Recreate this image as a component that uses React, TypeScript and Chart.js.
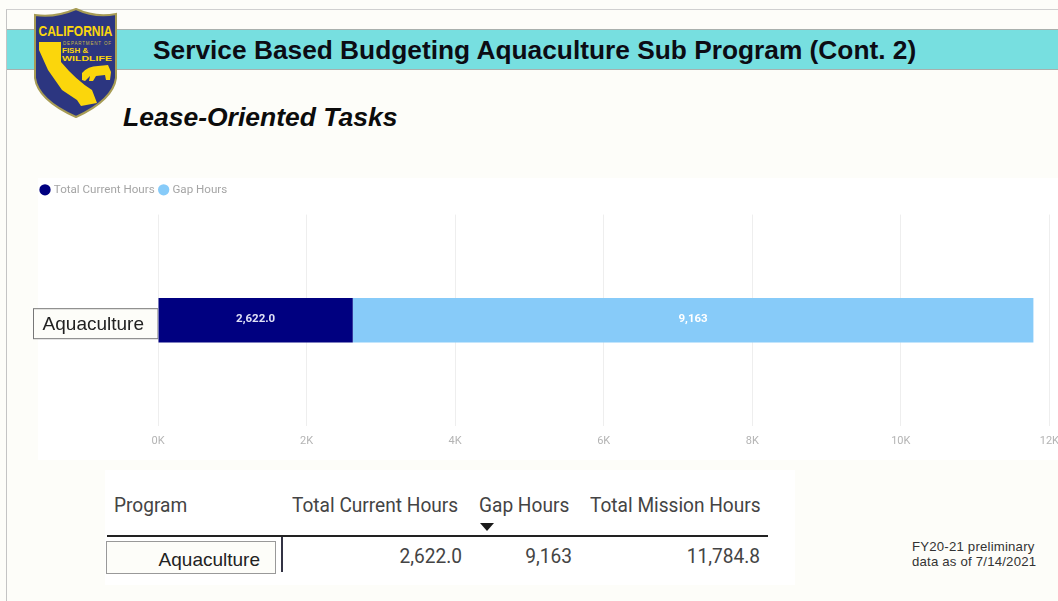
import React, { useEffect, useRef } from "react";
import { Chart, registerables } from "chart.js";

Chart.register(...registerables);

const categories = ["Aquaculture"];
const currentHours = [2622.0];
const gapHours = [9163];
const missionHours = [11784.8];
const currentLabels = ["2,622.0"];
const gapLabels = ["9,163"];
const xTicks = [0, 2000, 4000, 6000, 8000, 10000, 12000];
const tableHeaders = ["Program", "Total Current Hours", "Gap Hours", "Total Mission Hours"];

const PAGE = "#fdfdf9";

const legendGap = {
  id: "legendGap",
  beforeInit(chart: any) {
    const legend = chart.legend;
    const fit = legend.fit;
    legend.fit = function () {
      fit.call(this);
      this.height += 9;
    };
  },
};

const barLabels = {
  id: "barLabels",
  afterDatasetsDraw(chart: any) {
    const { ctx } = chart;
    const sets = [currentLabels, gapLabels];
    chart.data.datasets.forEach((_: any, di: number) => {
      chart.getDatasetMeta(di).data.forEach((el: any, i: number) => {
        ctx.save();
        ctx.fillStyle = di === 0 ? "#dfe0f5" : "#ffffff";
        ctx.font = "bold 11.5px Roboto";
        ctx.textAlign = "center";
        ctx.textBaseline = "middle";
        ctx.fillText(sets[di][i], (el.x + el.base) / 2, el.y - 1);
        ctx.restore();
      });
    });
  },
};

const categoryBox = {
  id: "categoryBox",
  beforeDraw(chart: any) {
    const { ctx, scales } = chart;
    const y0 = scales.y.getPixelForValue(0);
    const x1 = scales.x.getPixelForValue(0);
    ctx.save();
    ctx.fillStyle = PAGE;
    ctx.strokeStyle = "#777";
    ctx.lineWidth = 1;
    ctx.fillRect(3.5, y0 - 11.5, x1 - 3.5, 30);
    ctx.strokeRect(3.5, y0 - 11.5, x1 - 3.5, 30);
    ctx.restore();
  },
};

function Logo() {
  return (
    <svg width="90" height="114" viewBox="30 6 90 114" style={{ position: "absolute", left: 30, top: 6 }}>
      <path d="M76 9 Q55 18 35 15 L35 78 Q38 100 76 117 Q113 100 116 78 L116 14 Q95 18 76 9 Z" fill="#2c3680" stroke="#a79c55" strokeWidth="2" />
      <text x="75.5" y="35.5" textAnchor="middle" fill="#fbd60c" fontFamily="'Liberation Sans'" fontWeight="bold" fontSize="14" textLength="74" lengthAdjust="spacingAndGlyphs">CALIFORNIA</text>
      <path d="M39 42 L61 42 L61 62 Q76 80 92 90 L97 103 L81 106 L77 100 L62 90 L48 70 L39 50 Z" fill="#fbd60c" />
      <text x="87" y="45" textAnchor="middle" fill="#c9b94a" fontFamily="'Liberation Sans'" fontSize="4.5" textLength="48">DEPARTMENT OF</text>
      <text x="62" y="52.5" fill="#fbd60c" fontFamily="'Liberation Sans'" fontWeight="bold" fontSize="8">FISH &amp;</text>
      <text x="62" y="60.5" fill="#fbd60c" fontFamily="'Liberation Sans'" fontWeight="bold" fontSize="8" textLength="50" lengthAdjust="spacingAndGlyphs">WILDLIFE</text>
      <path d="M82 73 Q88 66 98 66 L108 65 L111 72 L110 80 L106 80 L105 75 L96 76 L93 81 L89 81 L90 76 L85 81 L82 80 Z" fill="#fbd60c" />
    </svg>
  );
}

const abs = (left: number, top: number, extra: any = {}) => ({ position: "absolute", left, top, whiteSpace: "nowrap", ...extra });
const tableFont = { fontFamily: "Roboto", fontSize: 20, color: "#444", transform: "scaleX(0.955)" };

export default function App() {
  const ref = useRef<HTMLCanvasElement>(null);
  useEffect(() => {
    document.body.style.margin = "0";
    const chart = new Chart(ref.current!, {
      type: "bar",
      data: {
        labels: categories,
        datasets: [
          { label: "Total Current Hours", data: currentHours, backgroundColor: "#000080", barPercentage: 0.21, categoryPercentage: 1 },
          { label: "Gap Hours", data: gapHours, backgroundColor: "#87cbf9", barPercentage: 0.21, categoryPercentage: 1 },
        ],
      },
      plugins: [legendGap, categoryBox, barLabels],
      options: {
        indexAxis: "y",
        animation: false,
        responsive: false,
        layout: { padding: { left: 6, right: 8, top: 0, bottom: 3 } },
        plugins: {
          tooltip: { enabled: false },
          legend: {
            position: "top",
            align: "start",
            labels: {
              usePointStyle: true,
              pointStyle: "circle",
              boxWidth: 6,
              boxHeight: 8,
              padding: 6,
              color: "#a5a5a5",
              font: { family: "Roboto", size: 11.6 },
            },
          },
        },
        scales: {
          x: {
            stacked: true,
            min: 0,
            max: 12000,
            afterBuildTicks: (s: any) => { s.ticks = xTicks.map((value) => ({ value })); },
            grid: { color: "#eeeeee", drawTicks: false },
            border: { display: false },
            ticks: {
              padding: 9,
              maxRotation: 0,
              color: "#b4b4b4",
              font: { family: "Roboto", size: 11 },
              callback: (v: any) => `${Number(v) / 1000}K`,
            },
          },
          y: {
            stacked: true,
            grid: { display: false },
            border: { display: false },
            afterFit: (s: any) => { s.width = 122; },
            ticks: {
              padding: 6,
              color: "#222",
              font: { family: "'Liberation Sans'", size: 19, lineHeight: 0.45 },
              callback: (_: any, i: number) => ["", categories[i]],
            },
          },
        },
      },
    } as any);
    return () => chart.destroy();
  }, []);

  return (
    <div style={{ position: "absolute", left: 0, top: 0, width: 1058, height: 601, overflow: "hidden", background: PAGE } as any}>
      <div style={{ position: "absolute", left: 6, top: 9, width: 1052, height: 592, borderLeft: "1.5px solid #c4c4c4", borderTop: "1.5px solid #d0d0d0" }} />
      <div style={{ position: "absolute", left: 7, top: 29, width: 1051, height: 41, background: "#77dfe0", borderTop: "1.5px solid #a9b0ad", borderBottom: "1.5px solid #a9b0ad", boxSizing: "border-box" }} />
      <Logo />
      <div style={abs(153, 35, { fontFamily: "'Liberation Sans'", fontWeight: "bold", fontSize: 26.3, color: "#0c0c14" }) as any}>Service Based Budgeting Aquaculture Sub Program (Cont. 2)</div>
      <div style={abs(123, 102, { fontFamily: "'Liberation Sans'", fontWeight: "bold", fontStyle: "italic", fontSize: 26.5, color: "#0c0c0c" }) as any}>Lease-Oriented Tasks</div>

      <div style={{ position: "absolute", left: 38, top: 178, width: 1020, height: 282, background: "#fff" }} />
      <canvas ref={ref} width={1038} height={282} style={{ position: "absolute", left: 30, top: 178, width: 1038, height: 282 }} />

      <div style={{ position: "absolute", left: 105, top: 470, width: 690, height: 115, background: "#fff" }} />
      <div style={abs(114, 493, { ...tableFont, transformOrigin: "left" }) as any}>{tableHeaders[0]}</div>
      <div style={abs(292, 493, { ...tableFont, transformOrigin: "left" }) as any}>{tableHeaders[1]}</div>
      <div style={abs(479, 493, { ...tableFont, transformOrigin: "left" }) as any}>{tableHeaders[2]}</div>
      <div style={abs(590, 493, { ...tableFont, transformOrigin: "left" }) as any}>{tableHeaders[3]}</div>
      <div style={{ position: "absolute", left: 480, top: 523, width: 0, height: 0, borderLeft: "7px solid transparent", borderRight: "7px solid transparent", borderTop: "8px solid #1a1a1a" }} />
      <div style={{ position: "absolute", left: 107, top: 535, width: 661, height: 2, background: "#222" }} />
      <div style={{ position: "absolute", left: 106, top: 541, width: 170, height: 33, boxSizing: "border-box", border: "1px solid #999", background: PAGE, fontFamily: "'Liberation Sans'", fontSize: 19, color: "#222", textAlign: "right", paddingRight: 15, lineHeight: "35px" }}>{categories[0]}</div>
      <div style={{ position: "absolute", left: 281, top: 537, width: 2, height: 35, background: "#334" }} />
      <div style={{ ...abs(0, 544), ...tableFont, width: 462, textAlign: "right", transformOrigin: "right" } as any}>{currentLabels[0]}</div>
      <div style={{ ...abs(0, 544), ...tableFont, width: 572, textAlign: "right", transformOrigin: "right" } as any}>{gapLabels[0]}</div>
      <div style={{ ...abs(0, 544), ...tableFont, width: 760, textAlign: "right", transformOrigin: "right" } as any}>{missionHours[0].toLocaleString("en-US", { minimumFractionDigits: 1 })}</div>

      <div style={abs(912, 539, { fontFamily: "'Liberation Sans'", fontSize: 13.2, letterSpacing: "0.2px", lineHeight: "15px", color: "#333" }) as any}>FY20-21 preliminary<br />data as of 7/14/2021</div>
    </div>
  );
}
